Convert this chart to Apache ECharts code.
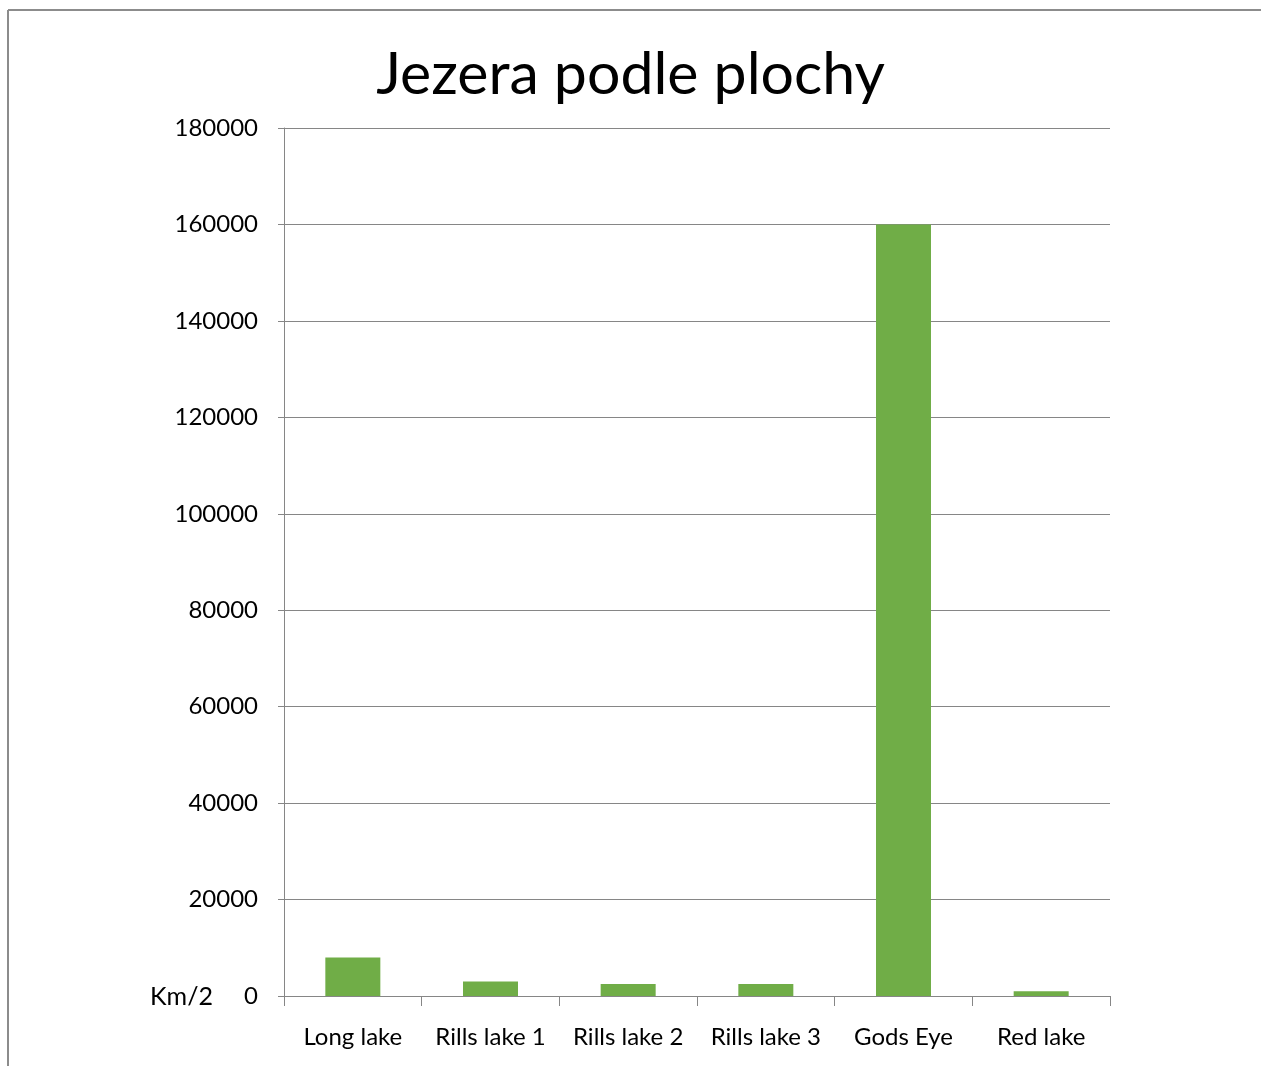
<!DOCTYPE html>
<html>
<head>
    <meta charset="utf-8">
    <title>Jezera podle plochy</title>
    <script src="https://cdn.jsdelivr.net/npm/echarts@6/dist/echarts.min.js"></script>
    <style>
        *{margin: 0;padding: 0;}
        body{background: #fff;}
    </style>
</head>
<body>
    <div id="main" style="width: 1261px;height:1066px;"></div>
    <script type="text/javascript">
        // data
        var lakes = ['Long lake', 'Rills lake 1', 'Rills lake 2', 'Rills lake 3', 'Gods Eye', 'Red lake'];
        var areas = [8000, 3000, 2500, 2500, 160000, 1000];
        var unitLabel = 'Km/2';

        var font = 'Lato, "Open Sans", sans-serif';
        var myChart = echarts.init(document.getElementById('main'));

        var option = {
            backgroundColor: '#fff',
            animation: false,
            title: {
                text: 'Jezera podle plochy',
                left: 'center',
                top: 40,
                textStyle: {
                    fontFamily: font,
                    fontSize: 59,
                    fontWeight: 'normal',
                    color: '#000'
                }
            },
            grid: {
                left: 284,
                right: 151,
                top: 128,
                bottom: 70,
                containLabel: false
            },
            xAxis: {
                type: 'category',
                data: lakes,
                axisLine: {lineStyle: {color: '#868686', width: 1}},
                axisTick: {show: true, length: 10, lineStyle: {color: '#868686'}},
                axisLabel: {
                    fontFamily: font,
                    fontSize: 24,
                    color: '#000',
                    margin: 29,
                    interval: 0
                }
            },
            yAxis: {
                type: 'value',
                min: 0,
                max: 180000,
                interval: 20000,
                axisLine: {show: true, lineStyle: {color: '#868686', width: 1}},
                axisTick: {show: true, length: 6, lineStyle: {color: '#868686'}},
                splitLine: {lineStyle: {color: '#868686', width: 1}},
                axisLabel: {
                    fontFamily: font,
                    fontSize: 24,
                    color: '#000',
                    margin: 26,
                    formatter: function (v) { return String(v); }
                }
            },
            series: [{
                type: 'bar',
                data: areas,
                barWidth: 55,
                itemStyle: {color: '#70ad47'}
            }],
            graphic: [
                {
                    type: 'text',
                    left: 150,
                    top: 984,
                    style: {
                        text: unitLabel,
                        font: '25px ' + font,
                        fill: '#000'
                    }
                },
                {
                    type: 'line',
                    shape: {x1: 8, y1: 10, x2: 1261, y2: 10},
                    style: {stroke: '#8c8c8c', lineWidth: 2}
                },
                {
                    type: 'line',
                    shape: {x1: 8, y1: 10, x2: 8, y2: 1066},
                    style: {stroke: '#8c8c8c', lineWidth: 2}
                }
            ]
        };

        myChart.setOption(option);
    </script>
</body>
</html>
